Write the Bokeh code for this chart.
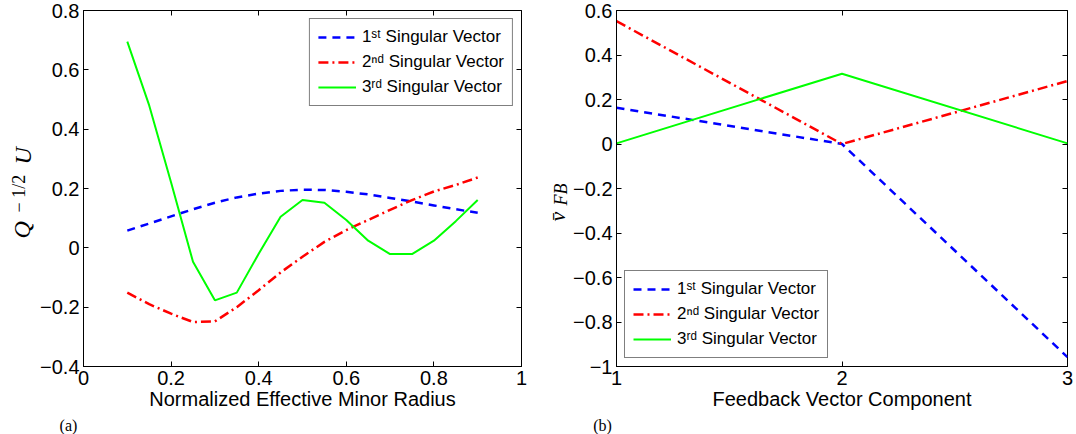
import math
from bokeh.plotting import figure
from bokeh.layouts import row, column
from bokeh.models import FixedTicker, LinearAxis, Range1d
from bokeh.core.properties import value
from bokeh.embed import file_html
from bokeh.resources import INLINE

# ---------------- data ----------------
radius = [0.10, 0.15, 0.20, 0.25, 0.30, 0.35, 0.40, 0.45, 0.50,
          0.55, 0.60, 0.65, 0.70, 0.75, 0.80, 0.85, 0.90]
u_sv1 = [0.058, 0.082, 0.106, 0.130, 0.152, 0.170, 0.183, 0.192, 0.196,
         0.195, 0.189, 0.180, 0.168, 0.156, 0.143, 0.130, 0.118]
u_sv2 = [-0.151, -0.190, -0.222, -0.250, -0.248, -0.200, -0.143, -0.083, -0.030,
         0.020, 0.060, 0.094, 0.128, 0.161, 0.190, 0.212, 0.237]
u_sv3 = [0.695, 0.480, 0.220, -0.047, -0.177, -0.151, -0.020, 0.105, 0.161,
         0.152, 0.094, 0.024, -0.021, -0.021, 0.024, 0.090, 0.161]

component = [1, 2, 3]
v_sv1 = [0.163, 0.000, -0.958]
v_sv2 = [0.552, 0.000, 0.283]
v_sv3 = [0.003, 0.316, 0.003]

legend_labels = ["1ˢᵗ Singular Vector", "2ⁿᵈ Singular Vector", "3ʳᵈ Singular Vector"]

left_xticks = [0, 0.2, 0.4, 0.6, 0.8, 1]
left_xtick_labels = ["0", "0.2", "0.4", "0.6", "0.8", "1"]
left_yticks = [-0.4, -0.2, 0, 0.2, 0.4, 0.6, 0.8]
left_ytick_labels = ["−0.4", "−0.2", "0", "0.2", "0.4", "0.6", "0.8"]

right_xticks = [1, 2, 3]
right_xtick_labels = ["1", "2", "3"]
right_yticks = [-1, -0.8, -0.6, -0.4, -0.2, 0, 0.2, 0.4, 0.6]
right_ytick_labels = ["−1", "−0.8", "−0.6", "−0.4", "−0.2", "0", "0.2", "0.4", "0.6"]

SANS = "Liberation Sans"
SERIF = "Liberation Serif"
TICK_FS = "20px"

# layout (pixels)
TOTAL_W, TOTAL_H = 1076, 434
HT = 416                      # height of the row holding the plots
TAG_H = TOTAL_H - HT          # strip under it holding the (a)/(b) tags
TOP, BOTTOM = 10, 50
LAB1_W, P1_W, LAB2_W, P2_W = 36, 497, 37, 506
P1_LEFT, P1_RIGHT = 47, 12
P2_LEFT, P2_RIGHT = 44, 9
LAB2_X = LAB1_W + P1_W        # page x of the second label strip


def style(p, xticks, xlabels, yticks, ylabels, xlabel):
    p.outline_line_color = "black"
    p.outline_line_width = 1
    p.xgrid.visible = False
    p.ygrid.visible = False
    p.background_fill_color = "white"
    p.border_fill_color = "white"

    xa = p.xaxis[0]
    ya = p.yaxis[0]
    xa.ticker = FixedTicker(ticks=xticks)
    ya.ticker = FixedTicker(ticks=yticks)
    xa.major_label_overrides = dict(zip(xticks, xlabels))
    ya.major_label_overrides = dict(zip(yticks, ylabels))
    for ax in (xa, ya):
        ax.major_tick_in = 5
        ax.major_tick_out = 0
        ax.minor_tick_line_color = None
        ax.axis_line_color = "black"
        ax.major_tick_line_color = "black"
        ax.major_label_text_font = SANS
        ax.major_label_text_font_size = TICK_FS
        ax.major_label_text_color = "black"
    xa.major_label_standoff = 4
    ya.major_label_standoff = 4
    xa.axis_label = xlabel
    xa.axis_label_text_font = SANS
    xa.axis_label_text_font_size = TICK_FS
    xa.axis_label_text_font_style = "normal"
    xa.axis_label_text_color = "black"
    xa.axis_label_standoff = 0

    top = LinearAxis(ticker=FixedTicker(ticks=xticks), major_tick_in=5, major_tick_out=0,
                     minor_tick_line_color=None, axis_line_color=None,
                     major_label_text_color=None, major_label_text_font_size="1px",
                     major_label_standoff=0)
    right = LinearAxis(ticker=FixedTicker(ticks=yticks), major_tick_in=5, major_tick_out=0,
                       minor_tick_line_color=None, axis_line_color=None,
                       major_label_text_color=None, major_label_text_font_size="1px",
                       major_label_standoff=0)
    p.add_layout(top, "above")
    p.add_layout(right, "right")


def style_legend(p, loc):
    lg = p.legend[0]
    lg.location = loc
    lg.margin = 8
    lg.padding = 8
    lg.spacing = 5
    lg.label_height = 20
    lg.glyph_width = 38
    lg.glyph_height = 20
    lg.label_standoff = 6
    lg.label_text_font = SANS
    lg.label_text_font_size = "17px"
    lg.label_text_color = "black"
    lg.border_line_color = "black"
    lg.border_line_width = 1.5
    lg.background_fill_color = "white"
    lg.background_fill_alpha = 1


def blank(width, height, top, bottom):
    """axis-less figure; data x = pixels from its left, data y = pixels up from frame bottom"""
    s = figure(width=width, height=height, x_range=Range1d(0, width),
               y_range=Range1d(0, height - top - bottom),
               output_backend="svg", toolbar_location=None,
               min_border_left=0, min_border_right=0,
               min_border_top=top, min_border_bottom=bottom)
    s.axis.visible = False
    s.xgrid.visible = False
    s.ygrid.visible = False
    s.outline_line_color = None
    s.background_fill_color = "white"
    s.border_fill_color = "white"
    return s


def label_strip(width, xs, page_ys, texts, sizes, styles):
    """narrow figure holding a composite rotated axis title (x = glyph centre line)"""
    s = blank(width, HT, TOP, BOTTOM)
    frame_bottom = HT - BOTTOM
    for x, py, t, fs, st in zip(xs, page_ys, texts, sizes, styles):
        s.text(x=[x], y=[frame_bottom - py], text=[t], angle=math.pi / 2,
               text_font=value(SERIF), text_font_style=st, text_font_size=fs,
               text_align="left", text_baseline="middle", text_color="black")
    return s


# ---------------- left panel ----------------
lab1 = label_strip(LAB1_W, [21, 18, 22], [238, 212, 164],
                   ["Q", "− 1/2", "U"], ["24px", "18px", "24px"],
                   ["italic", "normal", "italic"])

p1 = figure(width=P1_W, height=HT, x_range=Range1d(0, 1), y_range=Range1d(-0.4, 0.8),
            output_backend="svg", toolbar_location=None,
            min_border_left=P1_LEFT, min_border_right=P1_RIGHT,
            min_border_top=TOP, min_border_bottom=BOTTOM)
p1.line(radius, u_sv1, line_color="#0000ff", line_width=2.5, line_dash="8 6", legend_label=legend_labels[0])
p1.line(radius, u_sv2, line_color="#ff0000", line_width=2.5, line_dash="10 4 2 4", legend_label=legend_labels[1])
p1.line(radius, u_sv3, line_color="#00ff00", line_width=2, legend_label=legend_labels[2])
style(p1, left_xticks, left_xtick_labels, left_yticks, left_ytick_labels,
      "Normalized Effective Minor Radius")
style_legend(p1, "top_right")

# ---------------- right panel ----------------
lab2 = label_strip(LAB2_W, [557 - LAB2_X, 560 - LAB2_X], [221, 205], ["v̄", "FB"],
                   ["22px", "18px"], ["italic", "italic"])

p2 = figure(width=P2_W, height=HT, x_range=Range1d(1, 3), y_range=Range1d(-1, 0.6),
            output_backend="svg", toolbar_location=None,
            min_border_left=P2_LEFT, min_border_right=P2_RIGHT,
            min_border_top=TOP, min_border_bottom=BOTTOM)
p2.line(component, v_sv1, line_color="#0000ff", line_width=2.5, line_dash="8 6", legend_label=legend_labels[0])
p2.line(component, v_sv2, line_color="#ff0000", line_width=2.5, line_dash="10 4 2 4", legend_label=legend_labels[1])
p2.line(component, v_sv3, line_color="#00ff00", line_width=2, legend_label=legend_labels[2])
style(p2, right_xticks, right_xtick_labels, right_yticks, right_ytick_labels,
      "Feedback Vector Component")
style_legend(p2, "bottom_left")

# ---------------- panel tags ----------------
tags = blank(TOTAL_W, TAG_H, 0, 0)
tags.text(x=[68, 602], y=[TAG_H / 2, TAG_H / 2], text=["(a)", "(b)"],
          text_font=value(SERIF), text_font_size="16px", text_align="center",
          text_baseline="middle", text_color="black")

layout = column(row(lab1, p1, lab2, p2), tags)
open("out.html", "w").write(file_html(layout, INLINE))
